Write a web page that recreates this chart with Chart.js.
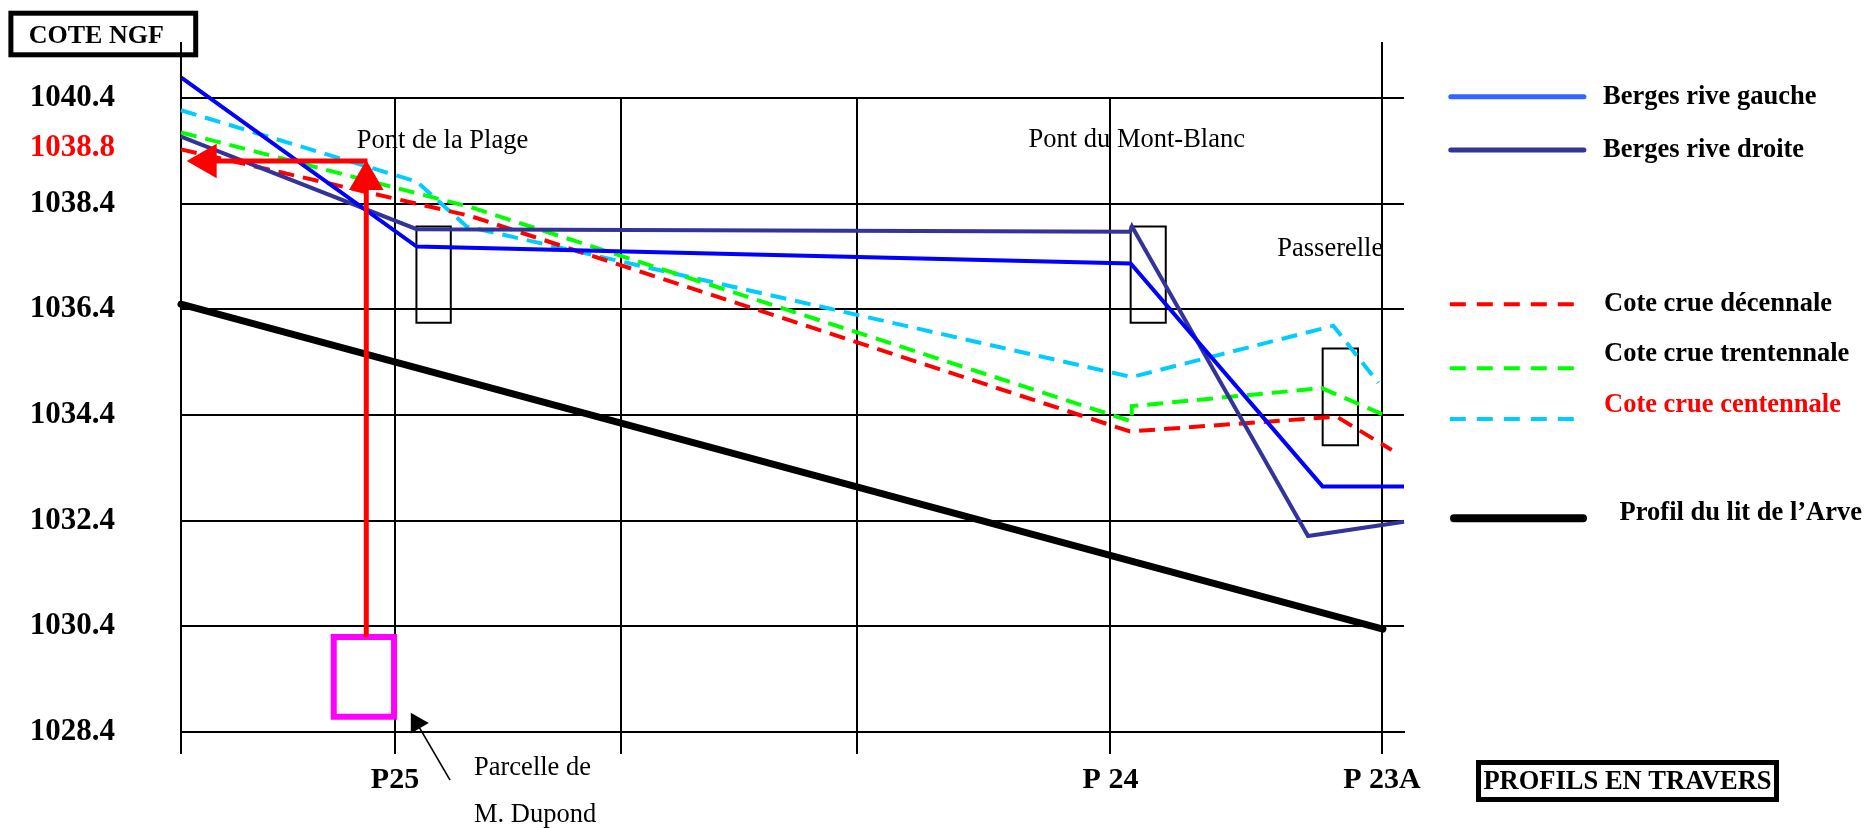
<!DOCTYPE html>
<html>
<head>
<meta charset="utf-8">
<script src="https://cdn.jsdelivr.net/npm/chart.js@4.4.1/dist/chart.umd.min.js"></script>
<style>
  html, body { margin: 0; padding: 0; background: #ffffff; }
  canvas { display: block; }
</style>
</head>
<body>
<canvas id="c" width="1867" height="828"></canvas>
<script>
// ---------- Axis values ----------
const yTickValues = [1028.4, 1030.4, 1032.4, 1034.4, 1036.4, 1038.4, 1040.4];
const xTickValues = [0, 175, 360, 553, 760, 982];
const xTickLabels = ['', 'P25', '', '', 'P 24', 'P 23A'];

// ---------- Series (abscissa along the reach, cote NGF in m) ----------
const gaucheX = [0, 192.7, 776.5, 933.4, 1000];
const gaucheY = [1040.79, 1037.59, 1037.27, 1033.05, 1033.05];

const droiteX = [0, 192.7, 776.0, 777.6, 921.5, 1000];
const droiteY = [1039.67, 1037.92, 1037.87, 1037.97, 1032.11, 1032.38];

const decennaleX = [0, 236.3, 776.0, 945.0, 989.9];
const decennaleY = [1039.43, 1038.17, 1034.09, 1034.37, 1033.74];

const trentennaleX = [0, 236.3, 777.4, 777.4, 932.7, 985.9];
const trentennaleY = [1039.75, 1038.34, 1034.28, 1034.57, 1034.91, 1034.38];

const centennaleX = [0, 192.7, 233.6, 777.4, 942.2, 979.0];
const centennaleY = [1040.17, 1038.82, 1037.97, 1035.12, 1036.09, 1035.01];

const litX = [0, 982.8];
const litY = [1036.50, 1030.35];

// bridge piers (boxes)
const pierLeft   = [192.5, 776.5, 933.5];
const pierRight  = [220.6, 805.2, 962.4];
const pierTop    = [1037.97, 1037.97, 1035.66];
const pierBottom = [1036.15, 1036.15, 1033.83];

// parcel of M. Dupond and flood arrow
const parcelX = [124.9, 174.2];
const parcelY = [1028.69, 1030.2];
const floodArrowX = 151.5;
const floodArrowBottom = 1030.2;
const floodArrowTop = 1038.85;
const floodLevelY = 1039.21;
const floodArrowLeftX = 21.0;
const floodLabel = '1038.8';
const floodLabelY = 1039.45;

// pointer towards the parcel
const pointerX = [220.0, 192.8];
const pointerY = [1027.49, 1028.57];

// text annotations
const noteTexts = ['Pont de la Plage', 'Pont du Mont-Blanc', 'Passerelle', 'Parcelle de', 'M. Dupond'];
const noteX = [213.8, 781.5, 939.7, 239.6, 239.6];
const noteY = [1039.59, 1039.61, 1037.54, 1027.72, 1026.83];
const noteAlign = ['center', 'center', 'center', 'left', 'left'];

// ---------- helpers ----------
const pts = (xs, ys) => xs.map((x, i) => ({ x: x, y: ys[i] }));
const rectPts = (x0, x1, y0, y1) => [
  { x: x0, y: y0 }, { x: x1, y: y0 }, { x: x1, y: y1 }, { x: x0, y: y1 }, { x: x0, y: y0 }
];
const base = { showLine: true, pointRadius: 0, borderWidth: 4, clip: false, fill: false, tension: 0 };
const DASH = [16, 9];
const FONT = '"Liberation Serif", "Times New Roman", serif';

const datasets = [
  Object.assign({}, base, {
    label: 'Flèche crue (montée)',
    data: pts([floodArrowX, floodArrowX], [floodArrowBottom, floodArrowTop]),
    borderColor: '#ff0000', borderWidth: 5,
    pointRadius: [0, 20], pointStyle: 'triangle', pointRotation: [0, 0],
    pointBackgroundColor: '#ff0000', pointBorderWidth: 0, order: 0
  }),
  Object.assign({}, base, {
    label: 'Flèche crue (niveau)',
    data: pts([floodArrowX + 1, floodArrowLeftX], [floodLevelY, floodLevelY]),
    borderColor: '#ff0000', borderWidth: 5,
    pointRadius: [0, 20], pointStyle: 'triangle', pointRotation: [0, -90],
    pointBackgroundColor: '#ff0000', pointBorderWidth: 0, order: 0
  }),
  Object.assign({}, base, {
    label: 'Repère parcelle',
    data: pts(pointerX, pointerY),
    borderColor: '#000000', borderWidth: 1.6,
    pointRadius: [0, 12], pointStyle: 'triangle', pointRotation: [0, -30],
    pointBackgroundColor: '#000000', pointBorderWidth: 0, order: 1
  }),
  Object.assign({}, base, {
    label: 'Parcelle',
    data: rectPts(parcelX[0], parcelX[1], parcelY[1], parcelY[0]),
    borderColor: '#ff00ff', borderWidth: 6, borderCapStyle: 'square', borderJoinStyle: 'miter', order: 1
  }),
  Object.assign({}, base, { label: 'Berges rive gauche', data: pts(gaucheX, gaucheY), borderColor: '#0000ff', order: 2 }),
  Object.assign({}, base, { label: 'Berges rive droite', data: pts(droiteX, droiteY), borderColor: '#333399', order: 3 }),
  Object.assign({}, base, { label: 'Cote crue décennale', data: pts(decennaleX, decennaleY), borderColor: '#ff0000', borderDash: DASH, order: 4 }),
  Object.assign({}, base, { label: 'Cote crue trentennale', data: pts(trentennaleX, trentennaleY), borderColor: '#00ff00', borderDash: DASH, order: 5 }),
  Object.assign({}, base, { label: 'Cote crue centennale', data: pts(centennaleX, centennaleY), borderColor: '#00ccff', borderDash: DASH, order: 6 }),
  Object.assign({}, base, { label: 'Profil du lit de l’Arve', data: pts(litX, litY), borderColor: '#000000', borderWidth: 7, borderCapStyle: 'round', order: 9 })
];
pierLeft.forEach((x0, i) => {
  datasets.push(Object.assign({}, base, {
    label: 'Pile ' + (i + 1),
    data: rectPts(x0, pierRight[i], pierTop[i], pierBottom[i]),
    borderColor: '#000000', borderWidth: 2, borderCapStyle: 'square', borderJoinStyle: 'miter', order: 8
  }));
});

// legend layout (drawn by plugin)
const legendRows = [
  { label: 'Berges rive gauche', color: '#3366ff', width: 5, dash: [], cap: 'round', x0: 1450.8, x1: 1583.9, lineY: 96.7, textX: 1603, textY: 96.7, textColor: '#000000' },
  { label: 'Berges rive droite', color: '#333399', width: 5, dash: [], cap: 'round', x0: 1450.8, x1: 1583.9, lineY: 150, textX: 1603, textY: 150, textColor: '#000000' },
  { label: 'Cote crue décennale', color: '#ff0000', width: 4, dash: [16, 11], cap: 'butt', x0: 1449.8, x1: 1574.6, lineY: 304.3, textX: 1604, textY: 304.3, textColor: '#000000' },
  { label: 'Cote crue trentennale', color: '#00ff00', width: 4, dash: [16, 11], cap: 'butt', x0: 1449.8, x1: 1574.6, lineY: 368.3, textX: 1604, textY: 354, textColor: '#000000' },
  { label: 'Cote crue centennale', color: '#00ccff', width: 4, dash: [16, 11], cap: 'butt', x0: 1449.8, x1: 1574.6, lineY: 419, textX: 1604, textY: 405, textColor: '#ff0000' },
  { label: 'Profil du lit de l’Arve', color: '#000000', width: 8, dash: [], cap: 'round', x0: 1454, x1: 1583, lineY: 518.3, textX: 1619.6, textY: 513.3, textColor: '#000000' }
];

const overlay = {
  id: 'overlay',
  afterDraw(chart) {
    const ctx = chart.ctx;
    const ca = chart.chartArea;
    const xs = chart.scales.x, ys = chart.scales.y;
    ctx.save();

    // left axis and last profile line continue above the top gridline
    ctx.strokeStyle = '#000000';
    ctx.lineWidth = 2;
    [xTickValues[0], xTickValues[xTickValues.length - 1]].forEach(v => {
      const px = Math.round(xs.getPixelForValue(v));
      ctx.beginPath();
      ctx.moveTo(px, ca.top);
      ctx.lineTo(px, ca.top - 56);
      ctx.stroke();
    });

    // boxed axis titles
    ctx.lineWidth = 5;
    ctx.strokeRect(10.9, 13.2, 184.8, 41.6);
    ctx.strokeRect(1478.5, 762.5, 298, 37);
    ctx.fillStyle = '#000000';
    ctx.textBaseline = 'middle';
    ctx.font = 'bold 26px ' + FONT;
    ctx.textAlign = 'left';
    ctx.fillText('COTE NGF', 28.7, 36);
    ctx.textAlign = 'center';
    ctx.font = 'bold 26.5px ' + FONT;
    ctx.fillText('PROFILS EN TRAVERS', 1627.5, 782);

    // flood level label
    ctx.font = 'bold 31px ' + FONT;
    ctx.textAlign = 'right';
    ctx.fillStyle = '#ff0000';
    ctx.fillText(floodLabel, ca.left - 66, ys.getPixelForValue(floodLabelY));

    // text annotations
    ctx.font = '26.5px ' + FONT;
    ctx.fillStyle = '#000000';
    noteTexts.forEach((t, i) => {
      ctx.textAlign = noteAlign[i];
      ctx.fillText(t, xs.getPixelForValue(noteX[i]), ys.getPixelForValue(noteY[i]));
    });

    // legend
    legendRows.forEach(r => {
      ctx.beginPath();
      ctx.setLineDash(r.dash);
      ctx.lineCap = r.cap;
      ctx.lineWidth = r.width;
      ctx.strokeStyle = r.color;
      ctx.moveTo(r.x0, r.lineY);
      ctx.lineTo(r.x1, r.lineY);
      ctx.stroke();
      ctx.setLineDash([]);
      ctx.font = 'bold 26.5px ' + FONT;
      ctx.textAlign = 'left';
      ctx.fillStyle = r.textColor;
      ctx.fillText(r.label, r.textX, r.textY);
    });
    ctx.restore();
  }
};

new Chart(document.getElementById('c'), {
  type: 'scatter',
  data: { datasets: datasets },
  plugins: [overlay],
  options: {
    responsive: false,
    devicePixelRatio: 1,
    animation: false,
    events: [],
    layout: { padding: { left: 0, right: 463, top: 98.1, bottom: 0 } },
    plugins: { legend: { display: false }, tooltip: { enabled: false } },
    elements: { point: { radius: 0 }, line: { tension: 0 } },
    scales: {
      x: {
        type: 'linear',
        min: 0, max: 1000,
        afterBuildTicks: s => { s.ticks = xTickValues.map(v => ({ value: v })); },
        afterFit: s => { s.height = 828 - 732.1; },
        grid: { color: '#000000', lineWidth: 2, drawTicks: true, tickLength: 22, tickColor: '#000000' },
        border: { display: true, color: '#000000', width: 2 },
        ticks: {
          autoSkip: false, maxRotation: 0, padding: 8,
          color: '#000000',
          font: { family: FONT, size: 30, weight: 'bold' },
          callback: (v, i) => xTickLabels[i]
        }
      },
      y: {
        type: 'linear',
        min: 1028.4, max: 1040.4,
        afterBuildTicks: s => { s.ticks = yTickValues.map(v => ({ value: v })); },
        afterFit: s => { s.width = 181; },
        grid: { color: '#000000', lineWidth: 2, drawTicks: false },
        border: { display: true, color: '#000000', width: 2 },
        ticks: {
          autoSkip: false, padding: 66,
          color: '#000000',
          font: { family: FONT, size: 31, weight: 'bold' },
          callback: v => Number(v).toFixed(1)
        }
      }
    }
  }
});
</script>
</body>
</html>
